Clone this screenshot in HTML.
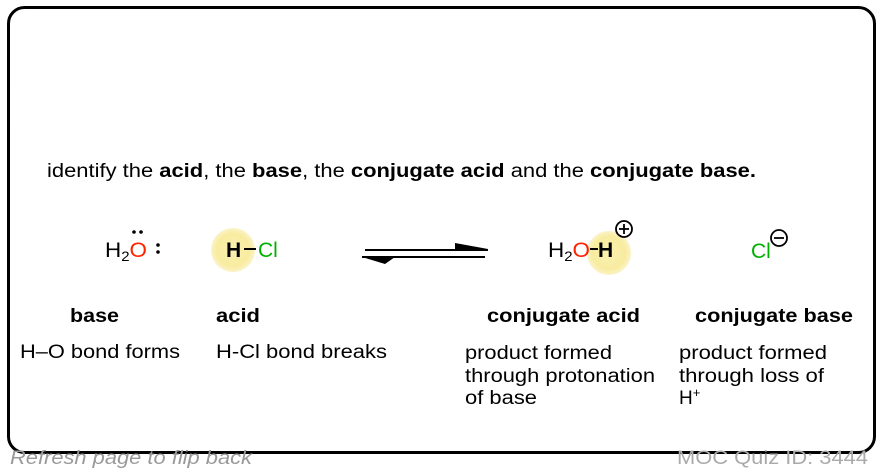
<!DOCTYPE html>
<html><head><meta charset="utf-8"><style>
html,body{margin:0;padding:0;background:#fff;}
svg{display:block;font-family:"Liberation Sans",Arial,sans-serif;}
</style></head><body>
<svg width="882" height="474" viewBox="0 0 882 474" xmlns="http://www.w3.org/2000/svg">
<defs>
<radialGradient id="g" cx="50%" cy="50%" r="50%">
<stop offset="0%" stop-color="#fbf0b0"/><stop offset="75%" stop-color="#f8eca0"/><stop offset="100%" stop-color="#fbf3c8"/>
</radialGradient>
</defs>
<rect x="8.5" y="7.5" width="866" height="445" rx="16" ry="16" fill="#fff" stroke="#000" stroke-width="3"/>

<text x="47" y="177" font-size="19" fill="#000" textLength="709" lengthAdjust="spacingAndGlyphs">identify the <tspan font-weight="bold">acid</tspan>, the <tspan font-weight="bold">base</tspan>, the <tspan font-weight="bold">conjugate acid</tspan> and the <tspan font-weight="bold">conjugate base.</tspan></text>

<!-- H2O: -->
<text x="105" y="257" font-size="21" textLength="42" lengthAdjust="spacingAndGlyphs">H<tspan font-size="14" dy="4">2</tspan><tspan dy="-4" fill="#ff2200">O</tspan></text>
<circle cx="134" cy="232" r="1.8" fill="#000"/><circle cx="141" cy="232" r="1.8" fill="#000"/>
<circle cx="158" cy="245" r="1.8" fill="#000"/><circle cx="158" cy="252" r="1.8" fill="#000"/>

<!-- HCl -->
<circle cx="233" cy="250" r="22" fill="url(#g)"/>
<text x="226" y="257" font-size="21" font-weight="bold">H</text>
<line x1="244" y1="249" x2="256" y2="249" stroke="#000" stroke-width="2"/>
<text x="258" y="257" font-size="21" fill="#00b000">Cl</text>

<!-- equilibrium arrows -->
<line x1="365" y1="250" x2="488" y2="250" stroke="#000" stroke-width="2"/>
<polygon points="455,243 488,249 455,250" fill="#000"/>
<line x1="362" y1="257" x2="485" y2="257" stroke="#000" stroke-width="2"/>
<polygon points="362,257 395,257 385,264" fill="#000"/>

<!-- H3O+ -->
<circle cx="609" cy="253" r="22" fill="url(#g)"/>
<text x="548" y="257" font-size="21" textLength="42" lengthAdjust="spacingAndGlyphs">H<tspan font-size="14" dy="4">2</tspan><tspan dy="-4" fill="#ff2200">O</tspan></text>
<line x1="590" y1="249" x2="598" y2="249" stroke="#000" stroke-width="2"/>
<text x="598" y="257" font-size="21" font-weight="bold">H</text>
<circle cx="624" cy="229" r="8" fill="#fff" stroke="#000" stroke-width="1.8"/>
<line x1="619" y1="229" x2="629" y2="229" stroke="#000" stroke-width="1.8"/>
<line x1="624" y1="224" x2="624" y2="234" stroke="#000" stroke-width="1.8"/>

<!-- Cl- -->
<text x="751" y="258" font-size="21" fill="#00b000">Cl</text>
<circle cx="779" cy="238" r="8" fill="#fff" stroke="#000" stroke-width="1.8"/>
<line x1="774" y1="238" x2="784" y2="238" stroke="#000" stroke-width="1.8"/>

<!-- labels -->
<g font-size="19" font-weight="bold">
<text x="70" y="322" textLength="49" lengthAdjust="spacingAndGlyphs">base</text>
<text x="216" y="322" textLength="44" lengthAdjust="spacingAndGlyphs">acid</text>
<text x="487" y="322" textLength="153" lengthAdjust="spacingAndGlyphs">conjugate acid</text>
<text x="695" y="322" textLength="158" lengthAdjust="spacingAndGlyphs">conjugate base</text>
</g>
<g font-size="19">
<text x="20" y="358" textLength="160" lengthAdjust="spacingAndGlyphs">H–O bond forms</text>
<text x="216" y="358" textLength="171" lengthAdjust="spacingAndGlyphs">H-Cl bond breaks</text>
<text x="465" y="359" textLength="147" lengthAdjust="spacingAndGlyphs">product formed</text>
<text x="465" y="382" textLength="190" lengthAdjust="spacingAndGlyphs">through protonation</text>
<text x="465" y="404" textLength="72" lengthAdjust="spacingAndGlyphs">of base</text>
<text x="679" y="359" textLength="148" lengthAdjust="spacingAndGlyphs">product formed</text>
<text x="679" y="382" textLength="145" lengthAdjust="spacingAndGlyphs">through loss of</text>
<text x="679" y="404">H<tspan font-size="13" dy="-7">+</tspan></text>
</g>

<!-- footer -->
<text x="10" y="464" font-size="19" font-style="italic" fill="#999" textLength="242" lengthAdjust="spacingAndGlyphs">Refresh page to flip back</text>
<text x="677" y="464" font-size="19" fill="#aaa" textLength="191" lengthAdjust="spacingAndGlyphs">MOC Quiz ID: 3444</text>
</svg>
</body></html>
